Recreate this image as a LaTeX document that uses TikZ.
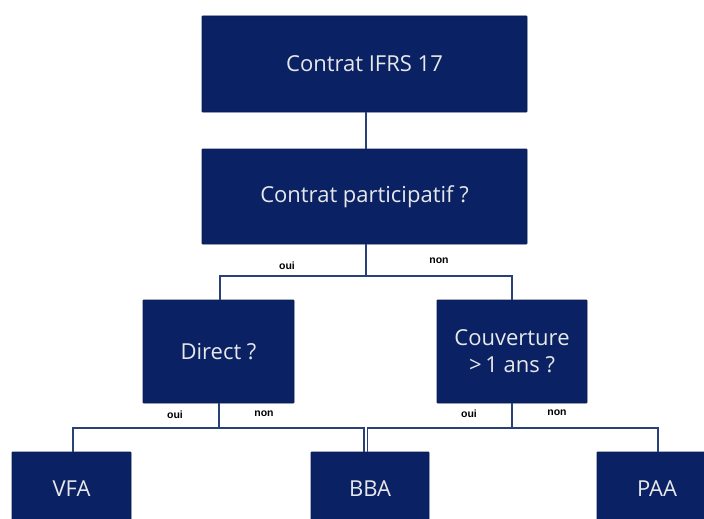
\documentclass[tikz,border=0pt]{standalone}
\usepackage{fontspec}
\setmainfont{Open Sans}
\newfontfamily\lblfont{Liberation Sans}
\definecolor{navy}{RGB}{10,34,99}
\definecolor{boxtext}{RGB}{232,232,236}
\definecolor{wire}{RGB}{40,65,120}
\begin{document}
\begin{tikzpicture}[x=1pt,y=-1pt,
  box/.style={rectangle,fill=navy,draw=navy!80!black,line width=0.8pt,text=boxtext,font=\fontsize{22}{27}\selectfont,align=center,inner sep=0pt,rounded corners=0.8pt},
  wirestyle/.style={draw=wire,line width=1.2pt},
  lbl/.style={font=\lblfont\bfseries\fontsize{10.5}{11}\selectfont,text=black,inner sep=0pt}]
\useasboundingbox (0,0) rectangle (704,519);
\node[box,minimum width=325pt,minimum height=96pt] (top) at (364.5,64) {Contrat IFRS 17};
\node[box,minimum width=325pt,minimum height=95pt] (part) at (364.5,196.5) {Contrat participatif ?};
\node[box,minimum width=151pt,minimum height=103pt] (direct) at (218.5,351.5) {Direct ?};
\node[box,minimum width=150pt,minimum height=103pt] (couv) at (512,351.5) {Couverture\\{>}\,1 ans ?};
\node[box,minimum width=119pt,minimum height=74pt] (vfa) at (71.5,489) {VFA};
\node[box,minimum width=118pt,minimum height=74pt] (bba) at (370,489) {BBA};
\node[box,minimum width=120pt,minimum height=74pt] (paa) at (657,489) {PAA};
\coordinate (j1) at (366,276);
\coordinate (j2) at (219,428);
\coordinate (j3) at (512,428);
\coordinate (b1) at (364,452);
\coordinate (b2) at (367.5,452);
\draw[wirestyle] (top.south -| j1) -- (part.north -| j1);
\draw[wirestyle] (part.south -| j1) -- (j1);
\draw[wirestyle] (j1) -| (220,300) coordinate (d1);
\draw[wirestyle] (j1) -| (couv.north);
\draw[wirestyle] (direct.south -| j2) -- (j2);
\draw[wirestyle] (j2) -| (73,452) coordinate (v1);
\draw[wirestyle] (j2) -| (b1);
\draw[wirestyle] (couv.south) -- (j3);
\draw[wirestyle] (j3) -| (b2);
\draw[wirestyle] (j3) -| (658,452) coordinate (p1);
\node[lbl] (l1) at (287,266) {oui};
\node[lbl] (l2) at (439,261) {non};
\node[lbl] (l3) at (175,415) {oui};
\node[lbl] (l4) at (264,414) {non};
\node[lbl] (l5) at (469,414) {oui};
\node[lbl] (l6) at (557,413) {non};
\end{tikzpicture}
\end{document}
